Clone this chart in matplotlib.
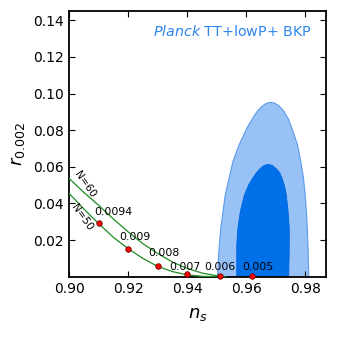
import matplotlib
matplotlib.use('Agg')
from matplotlib import pyplot as plt

# outer (95%) and inner (68%) contours of the Planck TT+lowP+BKP posterior
outer_ns = [0.9503, 0.9503, 0.9507, 0.9514, 0.9529, 0.9555, 0.9576, 0.9602, 0.9620,
            0.9636, 0.9650, 0.9666, 0.9681, 0.9696, 0.9710, 0.9720, 0.9729, 0.9743,
            0.9755, 0.9774, 0.9785, 0.9794, 0.9800, 0.9804, 0.9807, 0.9810, 0.9812, 0.9812]
outer_r = [-0.005, 0.0, 0.0130, 0.0265, 0.0446, 0.0628, 0.0720, 0.0810, 0.0860,
           0.0900, 0.0925, 0.0944, 0.0952, 0.0948, 0.0934, 0.0918, 0.0900, 0.0860,
           0.0810, 0.0720, 0.0628, 0.0540, 0.0446, 0.0355, 0.0265, 0.0130, 0.0, -0.005]
inner_ns = [0.9568, 0.9568, 0.9568, 0.9572, 0.9580, 0.9594, 0.9608, 0.9623, 0.9634,
            0.9645, 0.9658, 0.9672, 0.9688, 0.9704, 0.9714, 0.9721, 0.9730, 0.9736,
            0.9742, 0.9746, 0.9746, 0.9744, 0.9744]
inner_r = [-0.005, 0.0, 0.0173, 0.0265, 0.0355, 0.0446, 0.0500, 0.0540, 0.0566,
           0.0586, 0.0604, 0.0614, 0.0608, 0.0586, 0.0566, 0.0540, 0.0495, 0.0446,
           0.0355, 0.0265, 0.0173, 0.0, -0.005]

# N=60 and N=50 tracks
n60_ns = [0.900, 0.905, 0.910, 0.915, 0.920, 0.925, 0.930, 0.935, 0.940, 0.945, 0.950, 0.953]
n60_r = [0.0537, 0.0460, 0.0390, 0.0315, 0.0245, 0.0180, 0.0127, 0.0080, 0.0045, 0.0020, 0.0005, 0.0]
n50_ns = [0.900, 0.905, 0.910, 0.915, 0.920, 0.925, 0.930, 0.935, 0.940, 0.945, 0.950]
n50_r = [0.0455, 0.0370, 0.0290, 0.0215, 0.0153, 0.0100, 0.0056, 0.0028, 0.0010, 0.0002, 0.0]

# model points and their labels
pt_ns = [0.910, 0.920, 0.930, 0.940, 0.951, 0.962]
pt_r = [0.0293, 0.0153, 0.0056, 0.0013, 0.0006, 0.0003]
pt_labels = ['0.0094', '0.009', '0.008', '0.007', '0.006', '0.005']
lab_ns = [0.9150, 0.9222, 0.9321, 0.9392, 0.9511, 0.9640]
lab_r = [0.0355, 0.0218, 0.0127, 0.0054, 0.0054, 0.0054]

fig = plt.figure(figsize=(3.37, 3.37), dpi=100)
ax = fig.add_axes([0.205, 0.179, 0.762, 0.788])

ax.fill(outer_ns, outer_r, facecolor='#98c2f5', edgecolor='#5b9bec', lw=0.8, zorder=1)
ax.fill(inner_ns, inner_r, facecolor='#0070e8', edgecolor='#0066dd', lw=0.6, zorder=2)

ax.plot(n60_ns, n60_r, c='#1e8c1e', lw=0.9, zorder=3)
ax.plot(n50_ns, n50_r, c='#1e8c1e', lw=0.9, zorder=3)
ax.plot(pt_ns, pt_r, 'o', c='red', mec='#550000', mew=0.5, ms=4, zorder=4, clip_on=False)

for x, y, s in zip(lab_ns, lab_r, pt_labels):
    ax.text(x, y, s, fontsize=7.8, ha='center', va='center', zorder=5)

ax.text(0.9055, 0.0505, 'N=60', fontsize=7.5, rotation=-55, ha='center', va='center')
ax.text(0.9043, 0.0322, 'N=50', fontsize=7.5, rotation=-55, ha='center', va='center')

ax.text(0.945, 0.922, r'$\mathit{Planck}$ TT$+$lowP$+$ BKP', transform=ax.transAxes,
        color='#2f86ee', fontsize=10.3, ha='right', va='center')

ax.set_xlim(0.90, 0.987)
ax.set_ylim(0.0, 0.145)
ax.set_xticks([0.90, 0.92, 0.94, 0.96, 0.98])
ax.set_yticks([0.02, 0.04, 0.06, 0.08, 0.10, 0.12, 0.14])
ax.set_xticklabels(['0.90', '0.92', '0.94', '0.96', '0.98'])
ax.set_yticklabels(['0.02', '0.04', '0.06', '0.08', '0.10', '0.12', '0.14'])
ax.tick_params(direction='in', top=True, right=True, length=4, width=0.8,
               labelsize=10, pad=4)
for sp in ax.spines.values():
    sp.set_linewidth(1.3)

ax.set_xlabel(r'$n_s$', fontsize=13, labelpad=6)
ax.set_ylabel(r'$r_{0.002}$', fontsize=13, labelpad=4)

fig.savefig('out.png', dpi=100)
